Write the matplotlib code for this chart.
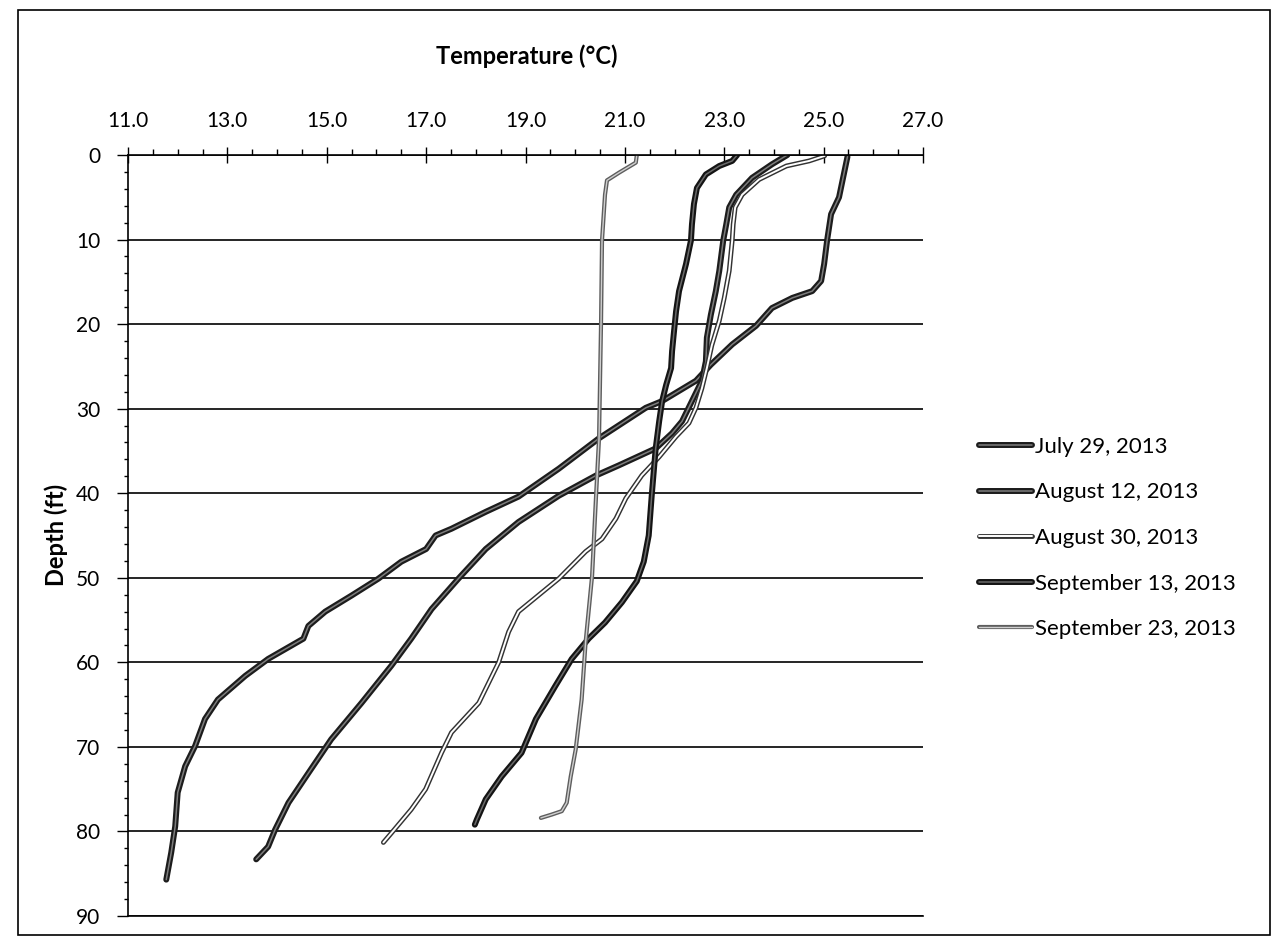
import numpy as np
import matplotlib
matplotlib.use("Agg")
import matplotlib.pyplot as plt
import matplotlib.patheffects as pe
from matplotlib.patches import Rectangle

plt.rcParams['font.family'] = ['Lato', 'DejaVu Sans']

# depth (ft) and temperature (deg C)
jul29_depth = [0.2, 5.0, 7.0, 10.1, 12.9, 14.9, 16.1, 16.9, 18.1, 20.2, 22.4, 24.8, 26.7, 29.1, 29.9,
               33.5, 37.1, 40.4, 42.2, 44.2, 45.0, 46.6, 48.1, 50.1, 52.1, 54.0, 55.7, 57.2, 59.6,
               61.6, 64.4, 66.7, 69.9, 72.3, 75.4, 79.4, 82.5, 85.7]
jul29_temp = [25.48, 25.31, 25.15, 25.07, 25.01, 24.95, 24.77, 24.37, 23.96, 23.64, 23.16, 22.73, 22.43,
              21.75, 21.42, 20.48, 19.67, 18.86, 18.2, 17.51, 17.19, 17.0, 16.5, 16.04, 15.5, 14.97,
              14.63, 14.53, 13.82, 13.36, 12.81, 12.55, 12.35, 12.15, 12.0, 11.95, 11.87, 11.77]

aug12_depth = [0.0, 1.1, 2.7, 4.7, 6.2, 8.2, 10.1, 13.7, 16.1, 18.9, 21.6, 24.4, 26.7, 29.1, 31.5,
               32.9, 34.7, 36.7, 37.9, 40.3, 43.4, 46.6, 50.1, 53.7, 57.2, 60.4, 64.8, 69.1, 73.1,
               76.6, 79.8, 81.8, 83.3]
aug12_temp = [24.27, 23.96, 23.56, 23.24, 23.1, 23.04, 22.98, 22.9, 22.83, 22.73, 22.65, 22.63, 22.55,
              22.35, 22.15, 21.95, 21.62, 20.88, 20.42, 19.67, 18.86, 18.2, 17.65, 17.11, 16.7, 16.3,
              15.7, 15.09, 14.63, 14.23, 13.96, 13.82, 13.58]

aug30_depth = [0.1, 0.7, 1.3, 2.9, 4.7, 6.2, 8.2, 10.1, 13.7, 16.9, 19.6, 22.5, 25.2, 27.6, 29.9,
               31.7, 33.3, 35.7, 37.9, 40.6, 43.0, 45.4, 46.9, 50.1, 54.0, 56.4, 60.0, 64.8, 68.3,
               70.7, 75.0, 77.4, 80.2, 81.3]
aug30_temp = [25.02, 24.71, 24.25, 23.7, 23.36, 23.22, 23.18, 23.16, 23.1, 23.0, 22.9, 22.75, 22.65,
              22.55, 22.43, 22.29, 22.03, 21.69, 21.34, 21.02, 20.82, 20.54, 20.21, 19.67, 18.86,
              18.66, 18.46, 18.06, 17.51, 17.31, 16.99, 16.7, 16.3, 16.14]

sep13_depth = [0.0, 0.7, 1.3, 2.3, 3.9, 5.8, 8.2, 10.1, 12.9, 16.1, 18.5, 20.8, 23.2, 25.2, 27.2,
               29.1, 31.5, 34.7, 37.5, 40.3, 45.0, 48.1, 50.4, 52.9, 55.3, 57.2, 59.6, 62.8, 66.7,
               70.7, 73.5, 76.2, 78.6, 79.2]
sep13_temp = [23.26, 23.16, 22.9, 22.63, 22.45, 22.39, 22.35, 22.33, 22.23, 22.09, 22.03, 21.99, 21.95,
              21.93, 21.83, 21.75, 21.69, 21.62, 21.58, 21.54, 21.48, 21.38, 21.24, 20.94, 20.6,
              20.27, 19.93, 19.6, 19.21, 18.92, 18.52, 18.2, 18.02, 17.98]

sep23_depth = [0.0, 0.9, 2.1, 3.0, 4.7, 10.1, 20.0, 33.5, 40.3, 49.8, 57.6, 64.4, 70.3, 73.5,
               76.6, 77.6, 78.0, 78.4]
sep23_temp = [21.24, 21.22, 20.88, 20.64, 20.6, 20.54, 20.52, 20.48, 20.42, 20.34, 20.21, 20.13,
              20.01, 19.91, 19.83, 19.73, 19.53, 19.31]

series = [
    ("July 29, 2013", jul29_temp, jul29_depth, '#7d7d7d', '#1c1c1c', 1.1, 4.3),
    ("August 12, 2013", aug12_temp, aug12_depth, '#7d7d7d', '#1c1c1c', 1.1, 4.3),
    ("August 30, 2013", aug30_temp, aug30_depth, '#ffffff', '#333333', 1.4, 3.5),
    ("September 13, 2013", sep13_temp, sep13_depth, '#6a6a6a', '#141414', 1.1, 4.3),
    ("September 23, 2013", sep23_temp, sep23_depth, '#cfcfcf', '#5e5e5e', 1.0, 3.0),
]

W, H = 1279, 947
fig = plt.figure(figsize=(W / 100, H / 100), dpi=100)
ax = fig.add_axes([128 / W, 1 - 916 / H, 795 / W, (916 - 155) / H])

for label, temp, depth, inner, outer, lw_in, lw_out in series:
    ax.plot(temp, depth, color=inner, lw=lw_in, label=label, solid_capstyle='round',
            path_effects=[pe.Stroke(linewidth=lw_out, foreground=outer), pe.Normal()])

ax.set_xlim(11, 27)
ax.set_ylim(90, 0)
ax.xaxis.tick_top()
ax.set_xticks(np.arange(11, 27.01, 2))
ax.set_xticks(np.arange(11, 27.01, 0.5), minor=True)
ax.xaxis.set_major_formatter('{x:.1f}')
ax.set_yticks(np.arange(0, 91, 10))
ax.set_yticks(np.arange(0, 91, 2), minor=True)

ax.tick_params(axis='x', which='major', direction='inout', length=12, width=1, pad=11, labelsize=15)
ax.tick_params(axis='x', which='minor', direction='out', length=4, width=1)
ax.tick_params(axis='y', which='major', direction='out', length=8, width=1, pad=12, labelsize=15)
ax.tick_params(axis='y', which='minor', direction='out', length=3, width=1)

ax.yaxis.grid(True, which='major', color='black', lw=1.2)
ax.set_axisbelow(True)
ax.spines['right'].set_visible(False)
for s in ['top', 'left', 'bottom']:
    ax.spines[s].set_linewidth(1.2)

fig.text(527 / W, 1 - 56 / H, 'Temperature (°C)', fontsize=17, fontweight='bold',
         ha='center', va='center')
fig.text(56 / W, 1 - 535 / H, 'Depth (ft)', fontsize=17, fontweight='bold',
         rotation=90, ha='center', va='center')

fig.legend(loc='center left', bbox_to_anchor=(979 / W, 1 - 538 / H), frameon=False,
           fontsize=16, handlelength=2.4, handletextpad=0.12, labelspacing=1.15,
           borderpad=0, borderaxespad=0)

fig.add_artist(Rectangle((18 / W, 1 - 935 / H), (1270 - 18) / W, (935 - 10) / H,
                         transform=fig.transFigure, fill=False, lw=1.2, color='black'))

fig.savefig('out.png', dpi=100)
